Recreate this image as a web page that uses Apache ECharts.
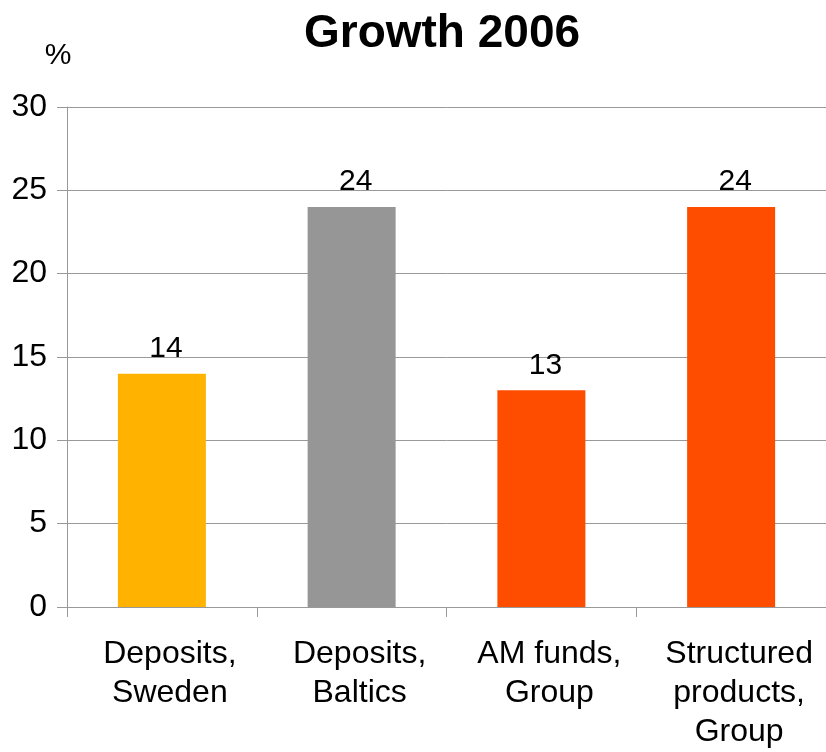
<!DOCTYPE html>
<html><head><meta charset="utf-8">
<script src="https://cdn.jsdelivr.net/npm/echarts@6/dist/echarts.min.js"></script>
<style>html,body{margin:0;padding:0;background:#fff}#c{width:826px;height:752px}</style>
</head><body><div id="c"></div>
<script>
const titleText = 'Growth 2006';
const unitLabel = '%';
const categories = ['Deposits,\nSweden', 'Deposits,\nBaltics', 'AM funds,\nGroup', 'Structured\nproducts,\nGroup'];
const values = [14, 24, 13, 24];
const barColors = ['#ffb300', '#969696', '#ff4d00', '#ff4d00'];
const yTicks = [0, 5, 10, 15, 20, 25, 30];

const font = 'Liberation Sans, Arial, sans-serif';
const chart = echarts.init(document.getElementById('c'), null, {renderer: 'canvas'});
chart.setOption({
  animation: false,
  backgroundColor: '#fff',
  title: {
    text: titleText, left: 437, top: 6, textAlign: 'center',
    textStyle: {fontFamily: font, fontSize: 46, fontWeight: 'bold', color: '#000'}
  },
  grid: {left: 67, top: 107, bottom: 145, width: 765, containLabel: false},
  xAxis: {
    type: 'category', data: categories,
    axisLine: {show: true, lineStyle: {color: '#999', width: 1}},
    axisTick: {show: true, length: 10, lineStyle: {color: '#999'}},
    axisLabel: {fontFamily: font, fontSize: 32, color: '#000', margin: 28, lineHeight: 39, interval: 0, padding: [0, 0, 0, 16]}
  },
  yAxis: {
    type: 'value', min: yTicks[0], max: yTicks[yTicks.length - 1], interval: 5,
    name: unitLabel, nameLocation: 'end', nameGap: 0,
    nameTextStyle: {fontFamily: font, fontSize: 30, color: '#000', align: 'center', padding: [0, 0, 36, -18]},
    axisLine: {show: true, lineStyle: {color: '#999', width: 1}},
    axisTick: {show: true, length: 10, lineStyle: {color: '#999'}},
    splitLine: {show: true, lineStyle: {color: '#999', width: 1}},
    axisLabel: {fontFamily: font, fontSize: 32, color: '#000', margin: 20}
  },
  series: [{
    type: 'bar', barWidth: 88,
    data: values.map((v, i) => ({value: v, itemStyle: {color: barColors[i]}})),
    label: {show: true, position: 'top', distance: 10, offset: [4, 0], fontFamily: font, fontSize: 30, color: '#000'}
  }]
});
</script></body></html>
